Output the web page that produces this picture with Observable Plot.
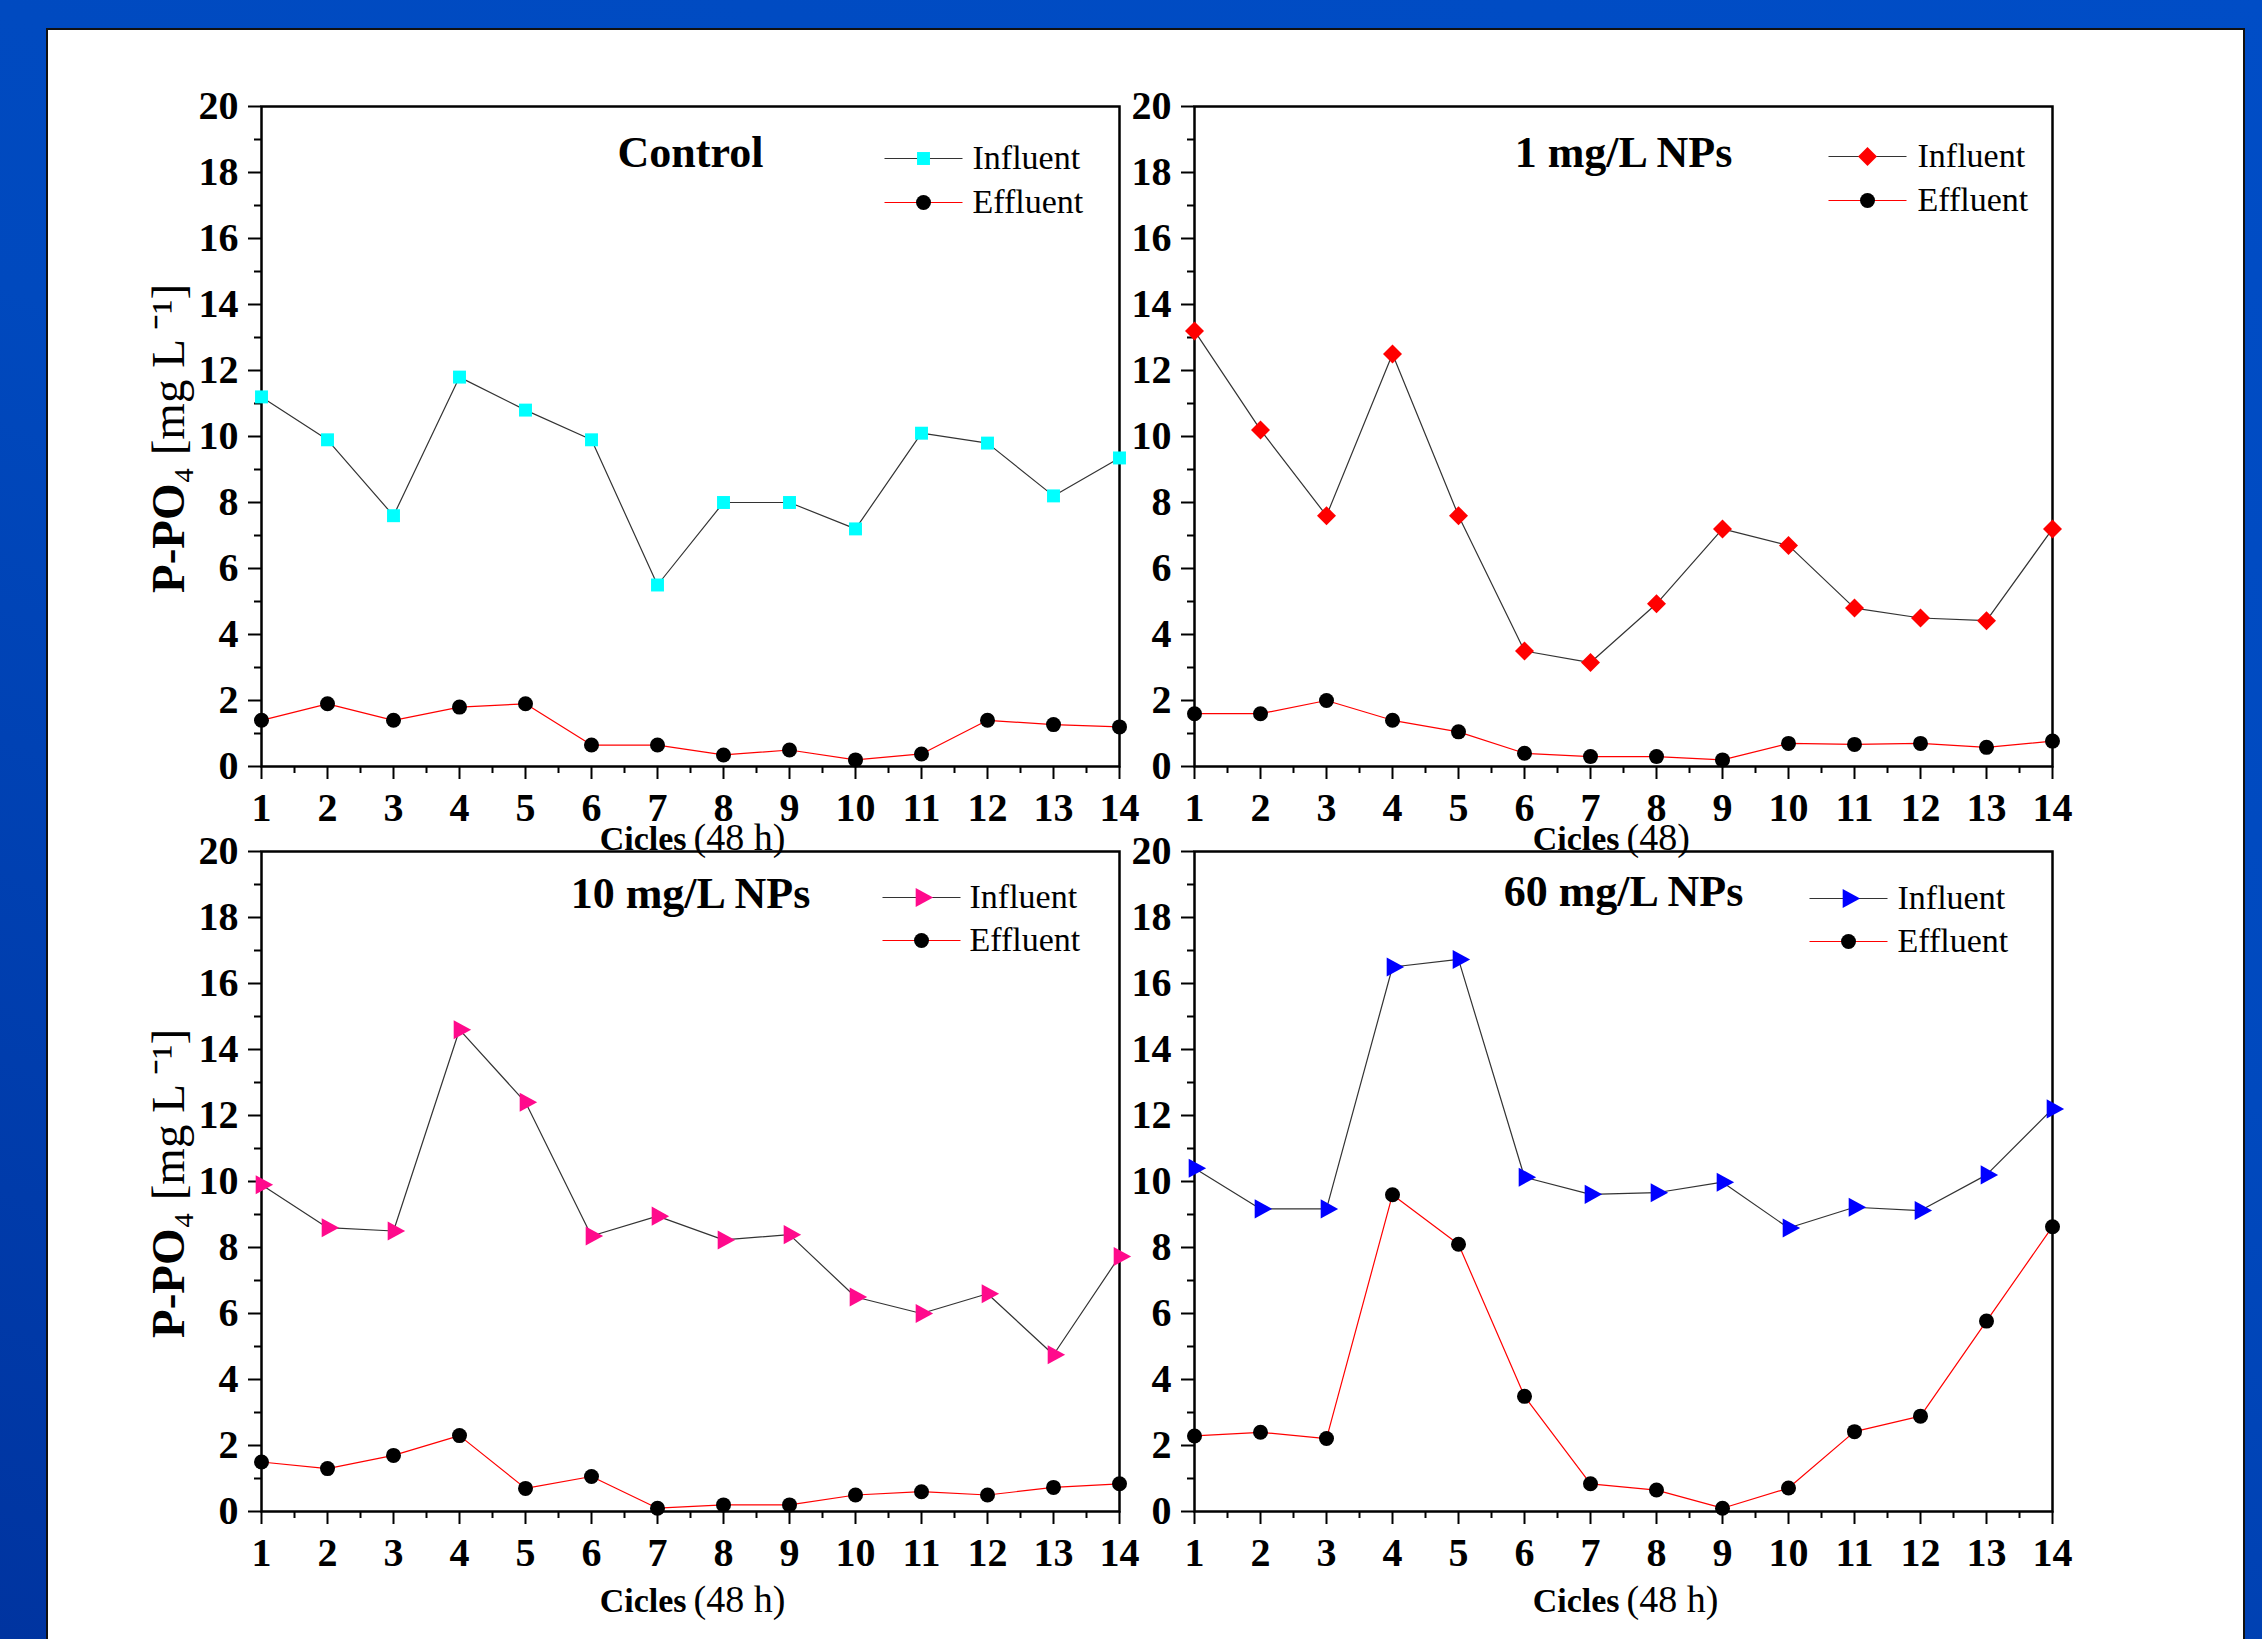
<!DOCTYPE html>
<html><head><meta charset="utf-8">
<script src="https://cdn.jsdelivr.net/npm/d3@7"></script>
<script src="https://cdn.jsdelivr.net/npm/@observablehq/plot@0.6"></script>
<style>
html,body{margin:0;padding:0;}
body{width:2262px;height:1639px;overflow:hidden;position:relative;
  background:linear-gradient(200deg,#004dc6 0%,#0049be 45%,#0034a0 100%);}
#sheet{position:absolute;left:46px;top:28px;width:2199px;height:1700px;background:#fff;border:2.5px solid #111;box-sizing:border-box;}
.panel{position:absolute;}
</style></head><body>
<div id="sheet"></div>
<div id="p1" class="panel"></div>
<div id="p2" class="panel"></div>
<div id="p3" class="panel"></div>
<div id="p4" class="panel"></div>
<script>
// ---- data ----
const cycles = [1,2,3,4,5,6,7,8,9,10,11,12,13,14];
const xTicks = [1,2,3,4,5,6,7,8,9,10,11,12,13,14];
const xMinorTicks = [1.5,2.5,3.5,4.5,5.5,6.5,7.5,8.5,9.5,10.5,11.5,12.5,13.5];
const yTicks = [0,2,4,6,8,10,12,14,16,18,20];
const yMinorTicks = [1,3,5,7,9,11,13,15,17,19];

const controlInfluent = [11.2, 9.9, 7.6, 11.8, 10.8, 9.9, 5.5, 8.0, 8.0, 7.2, 10.1, 9.8, 8.2, 9.35];
const controlEffluent = [1.4, 1.9, 1.4, 1.8, 1.9, 0.65, 0.65, 0.35, 0.5, 0.2, 0.38, 1.4, 1.27, 1.2];
const np1Influent = [13.2, 10.2, 7.6, 12.5, 7.6, 3.5, 3.15, 4.93, 7.2, 6.7, 4.8, 4.5, 4.42, 7.2];
const np1Effluent = [1.6, 1.6, 2.0, 1.4, 1.05, 0.4, 0.3, 0.3, 0.2, 0.7, 0.67, 0.7, 0.58, 0.77];
const np10Influent = [9.9, 8.6, 8.5, 14.6, 12.4, 8.35, 8.95, 8.23, 8.39, 6.5, 6.0, 6.6, 4.75, 7.73];
const np10Effluent = [1.5, 1.3, 1.7, 2.3, 0.7, 1.06, 0.1, 0.2, 0.2, 0.5, 0.6, 0.5, 0.73, 0.84];
const np60Influent = [10.4, 9.17, 9.17, 16.5, 16.73, 10.13, 9.61, 9.66, 9.98, 8.59, 9.22, 9.12, 10.2, 12.2];
const np60Effluent = [2.29, 2.4, 2.21, 9.6, 8.1, 3.49, 0.84, 0.65, 0.1, 0.71, 2.42, 2.89, 5.77, 8.63];

const panelTitles = ["Control", "1 mg/L NPs", "10 mg/L NPs", "60 mg/L NPs"];
const seriesNames = ["Influent", "Effluent"];
const xLabelBold = "Cicles";
const xLabelUnits = ["(48 h)", "(48)", "(48 h)", "(48 h)"];
const yLabelBold = "P-PO";
const yLabelRest = "\u2084 [mg L\u2009\u207B\u00B9]";

// ---- styling ----
const FONT = '"Liberation Serif", "Times New Roman", serif';
const triRight = {draw(ctx, size){ const r=Math.sqrt(size/Math.PI), s=r*1.25;
  ctx.moveTo(s,0); ctx.lineTo(-s/2,0.82*s); ctx.lineTo(-s/2,-0.82*s); ctx.closePath(); }};
const diamond = {draw(ctx, size){ const r=Math.sqrt(size/Math.PI);
  ctx.moveTo(0,-r); ctx.lineTo(r,0); ctx.lineTo(0,r); ctx.lineTo(-r,0); ctx.closePath(); }};
const hline = {draw(ctx, size){ const r=Math.sqrt(size/Math.PI); ctx.moveTo(-r,0); ctx.lineTo(r,0); }};

function measure(text, font){
  const c = document.createElement("canvas").getContext("2d");
  c.font = font; return c.measureText(text).width;
}

const panels = [
  {id:"p1", title:panelTitles[0], inf:controlInfluent, eff:controlEffluent, color:"#00ffff", symbol:"square", r:7.3,
   unit:xLabelUnits[0], left:41, top:26, titleDy:60, legX:662, legText:711, legY1:52, legY2:96, xlabDy:83, ylabel:true},
  {id:"p2", title:panelTitles[1], inf:np1Influent, eff:np1Effluent, color:"#ff0000", symbol:diamond, r:9.5,
   unit:xLabelUnits[1], left:974, top:26, titleDy:60, legX:673, legText:723, legY1:50, legY2:94, xlabDy:83, ylabel:false},
  {id:"p3", title:panelTitles[2], inf:np10Influent, eff:np10Effluent, color:"#ff0a8c", symbol:triRight, r:9.3,
   unit:xLabelUnits[2], left:41, top:771, titleDy:56, legX:660, legText:708, legY1:46, legY2:89, xlabDy:100, ylabel:true},
  {id:"p4", title:panelTitles[3], inf:np60Influent, eff:np60Effluent, color:"#0000ff", symbol:triRight, r:9.3,
   unit:xLabelUnits[3], left:974, top:771, titleDy:54, legX:654, legText:703, legY1:47, legY2:90, xlabDy:100, ylabel:false}
];

const YFS = 47;
const wB = measure(yLabelBold, `bold ${YFS}px ${FONT}`);
const wR = measure(yLabelRest, `${YFS}px ${FONT}`);
const junctionDy = (wB + wR) / 2 - wB + 2;

for (const p of panels) {
  const rows = cycles.map((c, i) => ({c, inf: p.inf[i], eff: p.eff[i]}));
  const marks = [
    Plot.axisY({ticks: yTicks, tickSize: 13, tickPadding: 10, fontSize: 40, fontWeight: "bold", strokeWidth: 2, label: null}),
    Plot.axisY({ticks: yMinorTicks, tickSize: 7, text: null, strokeWidth: 2, label: null}),
    Plot.axisX({ticks: xTicks, tickSize: 13, tickPadding: 13, fontSize: 40, fontWeight: "bold", strokeWidth: 2, label: null, tickFormat: d => String(d)}),
    Plot.axisX({ticks: xMinorTicks, tickSize: 7, text: null, strokeWidth: 2, label: null}),
    Plot.frame({stroke: "#000", strokeWidth: 2.5}),
    Plot.line(rows, {x: "c", y: "inf", stroke: "#333", strokeWidth: 1.2}),
    Plot.line(rows, {x: "c", y: "eff", stroke: "#ff0000", strokeWidth: 1.2}),
    Plot.dot(rows, {x: "c", y: "inf", symbol: p.symbol, r: p.r, fill: p.color, stroke: "none"}),
    Plot.dot(rows, {x: "c", y: "eff", symbol: "circle", r: 7.5, fill: "#000", stroke: "none"}),
    // title
    Plot.text([p.title], {text: d => d, frameAnchor: "top", dy: p.titleDy, lineAnchor: "bottom", fontSize: 44, fontWeight: "bold", fill: "#000"}),
    // legend
    Plot.dot([seriesNames[0]], {frameAnchor: "top-left", dx: p.legX, dy: p.legY1, symbol: hline, r: 39, stroke: "#333", fill: "none", strokeWidth: 1.2}),
    Plot.dot([seriesNames[1]], {frameAnchor: "top-left", dx: p.legX, dy: p.legY2, symbol: hline, r: 39, stroke: "#ff0000", fill: "none", strokeWidth: 1.2}),
    Plot.dot([seriesNames[0]], {frameAnchor: "top-left", dx: p.legX, dy: p.legY1, symbol: p.symbol, r: p.r, fill: p.color, stroke: "none"}),
    Plot.dot([seriesNames[1]], {frameAnchor: "top-left", dx: p.legX, dy: p.legY2, symbol: "circle", r: 7.5, fill: "#000", stroke: "none"}),
    Plot.text([seriesNames[0]], {text: d => d, frameAnchor: "top-left", dx: p.legText, dy: p.legY1, textAnchor: "start", lineAnchor: "middle", fontSize: 34, fill: "#000"}),
    Plot.text([seriesNames[1]], {text: d => d, frameAnchor: "top-left", dx: p.legText, dy: p.legY2, textAnchor: "start", lineAnchor: "middle", fontSize: 34, fill: "#000"}),
    // x label
    Plot.text([xLabelBold], {text: d => d, frameAnchor: "bottom", dx: -4, dy: p.xlabDy, textAnchor: "end", lineAnchor: "bottom", fontSize: 34, fontWeight: "bold", fill: "#000"}),
    Plot.text([p.unit], {text: d => d, frameAnchor: "bottom", dx: 3, dy: p.xlabDy, textAnchor: "start", lineAnchor: "bottom", fontSize: 38, fill: "#000"})
  ];
  if (p.ylabel) {
    marks.push(
      Plot.text([yLabelBold], {text: d => d, frameAnchor: "left", rotate: -90, dx: -93, dy: junctionDy, textAnchor: "end", lineAnchor: "middle", fontSize: YFS, fontWeight: "bold", fill: "#000"}),
      Plot.text([yLabelRest], {text: d => d, frameAnchor: "left", rotate: -90, dx: -93, dy: junctionDy, textAnchor: "start", lineAnchor: "middle", fontSize: YFS, fill: "#000"})
    );
  }
  const chart = Plot.plot({
    width: 1138, height: 860,
    marginLeft: 220, marginRight: 60, marginTop: 80, marginBottom: 120,
    x: {domain: [1, 14]},
    y: {domain: [0, 20]},
    style: {fontFamily: FONT, background: "transparent", color: "#000", overflow: "visible", maxWidth: "none"},
    marks
  });
  const host = document.getElementById(p.id);
  host.style.left = p.left + "px";
  host.style.top = p.top + "px";
  host.appendChild(chart);
}
</script>
</body></html>
